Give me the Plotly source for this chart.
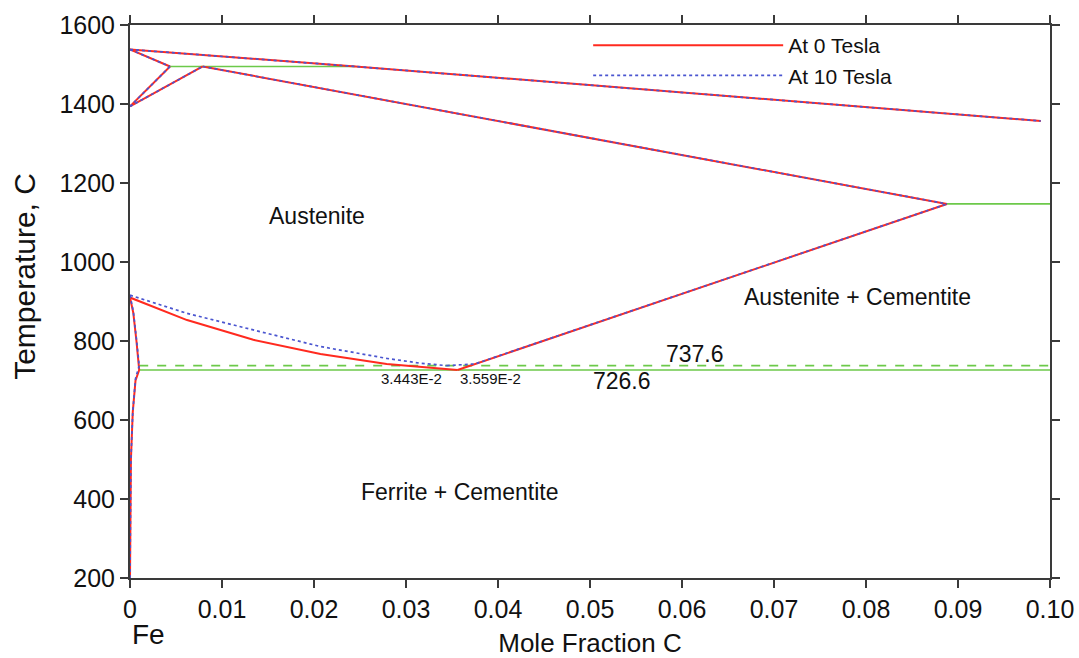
import plotly.graph_objects as go

# ---------------- data ----------------
# 0 Tesla boundaries
liq_x = [0, 0.0245, 0.099]
liq_T = [1538, 1495, 1357]
dsol_x = [0, 0.00435]
dsol_T = [1538, 1495]
dgam_x = [0.00435, 0.0]
dgam_T = [1495, 1394]
gdel_x = [0.0, 0.0079]
gdel_T = [1394, 1495]
gsol_x = [0.0079, 0.0888]
gsol_T = [1495, 1147]
acm_x = [0.0888, 0.0356]
acm_T = [1147, 726.6]
a3_x = [0.0, 0.0062, 0.0134, 0.0207, 0.0279, 0.0356]
a3_T = [910, 853, 803, 767, 742, 726.6]
alpha_x = [0.0, 0.00036, 0.0007, 0.001]
alpha_T = [910, 871, 800, 726.6]
fsolv_x = [0.001, 0.0006, 0.0003, 0.0001, 0.0]
fsolv_T = [726.6, 700, 620, 500, 200]

# 10 Tesla boundaries
a3_10_x = [0.0, 0.0062, 0.0134, 0.0207, 0.0279, 0.0315, 0.03443]
a3_10_T = [916, 870, 828, 786, 756, 744, 737.6]
acm_10_x = [0.03443, 0.0375, 0.0888]
acm_10_T = [737.6, 742, 1147]
alpha_10_x = [0.0, 0.00036, 0.0007, 0.001]
alpha_10_T = [916, 875, 805, 737.6]
fsolv_10_x = [0.001, 0.0006, 0.0003, 0.0001, 0.0]
fsolv_10_T = [737.6, 705, 620, 500, 200]

# invariant lines
peri_x = [0.00435, 0.0245]
peri_T = [1495, 1495]
eut_x = [0.0888, 0.1]
eut_T = [1147, 1147]
a1_x = [0.001, 0.1]
a1_T = [726.6, 726.6]
a1_10_x = [0.001, 0.1]
a1_10_T = [737.6, 737.6]

x_ticks = [0, 0.01, 0.02, 0.03, 0.04, 0.05, 0.06, 0.07, 0.08, 0.09, 0.10]
x_ticktext = ["0", "0.01", "0.02", "0.03", "0.04", "0.05", "0.06", "0.07", "0.08", "0.09", "0.10"]
y_ticks = [200, 400, 600, 800, 1000, 1200, 1400, 1600]

# ---------------- styling ----------------
RED = "#ff2a1f"
BLUE = "#4a55d0"
GREEN = "#6cc94a"
FONT = "Liberation Sans, Arial, Helvetica, sans-serif"

fig = go.Figure()

# green invariant lines
for xs, ts, dash in [(peri_x, peri_T, "solid"), (eut_x, eut_T, "solid"),
                     (a1_x, a1_T, "solid"), (a1_10_x, a1_10_T, "dash")]:
    fig.add_trace(go.Scatter(x=xs, y=ts, mode="lines", showlegend=False,
                             line=dict(color=GREEN, width=1.7, dash=dash),
                             hoverinfo="skip"))

red_sets = [(liq_x, liq_T), (dsol_x, dsol_T), (dgam_x, dgam_T), (gdel_x, gdel_T),
            (gsol_x, gsol_T), (acm_x, acm_T), (a3_x, a3_T), (alpha_x, alpha_T),
            (fsolv_x, fsolv_T)]
blue_sets = [(liq_x, liq_T), (dsol_x, dsol_T), (dgam_x, dgam_T), (gdel_x, gdel_T),
             (gsol_x, gsol_T), (acm_10_x, acm_10_T), (a3_10_x, a3_10_T),
             (alpha_10_x, alpha_10_T), (fsolv_10_x, fsolv_10_T)]

for i, (xs, ts) in enumerate(red_sets):
    fig.add_trace(go.Scatter(x=xs, y=ts, mode="lines", name="At 0 Tesla",
                             legendgroup="g0", showlegend=(i == 0),
                             line=dict(color=RED, width=2)))
for i, (xs, ts) in enumerate(blue_sets):
    fig.add_trace(go.Scatter(x=xs, y=ts, mode="lines", name="At 10 Tesla",
                             legendgroup="g10", showlegend=(i == 0),
                             line=dict(color=BLUE, width=1.7, dash="dot")))

# ---------------- annotations ----------------
def txt(x, y, s, size, xanchor="center", yanchor="middle"):
    fig.add_annotation(x=x, y=y, text=s, showarrow=False, xref="x", yref="y",
                       xanchor=xanchor, yanchor=yanchor,
                       font=dict(family=FONT, size=size, color="#111"))

txt(0.0203, 1116, "Austenite", 23)
txt(0.0791, 911, "Austenite + Cementite", 23)
txt(0.0359, 418, "Ferrite + Cementite", 23)
txt(0.0614, 768, "737.6", 23)
txt(0.0535, 700, "726.6", 23)
txt(0.0341, 706, "3.443E-2", 15, xanchor="right")
txt(0.0357, 706, "3.559E-2", 15, xanchor="left")

fig.add_annotation(x=0, y=-0.07, xref="paper", yref="paper", text="Fe",
                   showarrow=False, xanchor="left", yanchor="top",
                   font=dict(family=FONT, size=28, color="#111"))

# y-axis title placed as text (rotated)
fig.add_annotation(x=-0.115, y=0.545, xref="paper", yref="paper",
                   text="Temperature, C", textangle=-90, showarrow=False,
                   xanchor="center", yanchor="middle",
                   font=dict(family=FONT, size=30, color="#111"))

axis_common = dict(showgrid=False, zeroline=False, showline=True, automargin=False,
                   linecolor="#3a3a3a", linewidth=2, mirror="ticks",
                   ticks="outside", ticklen=8, tickwidth=1.8, tickcolor="#3a3a3a",
                   tickfont=dict(family=FONT, size=25, color="#111"))

fig.update_layout(
    width=1079, height=658,
    margin=dict(l=130, r=29, t=25, b=80, autoexpand=False),
    plot_bgcolor="white", paper_bgcolor="white",
    font=dict(family=FONT, color="#111"),
    xaxis=dict(range=[0, 0.1], tickvals=x_ticks, ticktext=x_ticktext,
               title=dict(text="Mole Fraction C", font=dict(family=FONT, size=26),
                          standoff=16),
               **axis_common),
    yaxis=dict(range=[200, 1600], tickvals=y_ticks, **axis_common),
    legend=dict(x=0.498, y=1.0, xanchor="left", yanchor="top",
                bgcolor="rgba(0,0,0,0)", itemwidth=190, tracegroupgap=0,
                font=dict(family=FONT, size=21, color="#111"),
                traceorder="grouped"),
)

fig.write_html("out.html")
